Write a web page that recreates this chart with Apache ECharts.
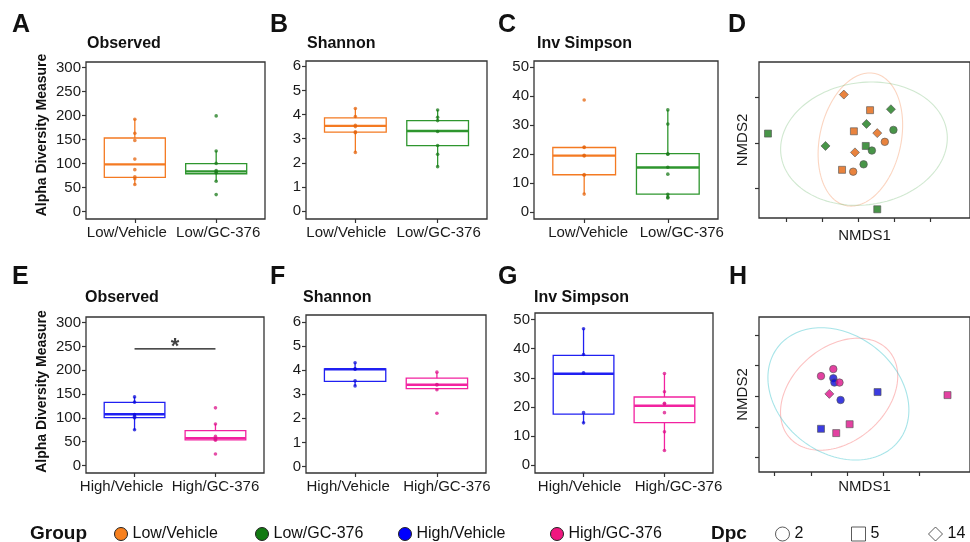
<!DOCTYPE html>
<html><head><meta charset="utf-8">
<script src="https://cdn.jsdelivr.net/npm/echarts@6/dist/echarts.min.js"></script>
<style>html,body{margin:0;padding:0;background:#fff}#chart{width:970px;height:542px}</style>
</head><body><div id="chart"></div>
<script>
// ---------------- DATA ----------------
const lowCats = ['Low/Vehicle', 'Low/GC-376'];
const highCats = ['High/Vehicle', 'High/GC-376'];
const groupNames = ['Low/Vehicle', 'Low/GC-376', 'High/Vehicle', 'High/GC-376'];
const dpcLevels = ['2', '5', '14'];

const obsTicks = [0, 50, 100, 150, 200, 250, 300];
const shanTicks = [0, 1, 2, 3, 4, 5, 6];
const invTicks = [0, 10, 20, 30, 40, 50];
const nmdsXTicks = [-2, -1, 0, 1, 2];
const nmdsYTicksD = [-1, 0, 1];
const nmdsYTicksH = [-2, -1, 0, 1, 2];

// box stats: [lower whisker, Q1, median, Q3, upper whisker]
const obsLowBox = [[56, 71, 98, 153, 192], [63, 78.5, 83.5, 99.5, 126]];
const obsLowPts = [[192, 163, 148, 109, 87, 72, 68, 56], [199, 126, 100, 85, 82, 80, 63, 35]];
const shanLowBox = [[2.43, 3.27, 3.53, 3.86, 4.25], [1.84, 2.71, 3.32, 3.75, 4.19]];
const shanLowPts = [[4.25, 3.92, 3.55, 3.5, 3.28, 3.25, 2.43], [4.19, 3.89, 3.75, 3.3, 2.72, 2.35, 1.84]];
const invLowBox = [[6.1, 12.8, 19.4, 22.2, 22.4], [5.0, 6.1, 15.3, 20.1, 35.2]];
const invLowPts = [[38.6, 22.4, 22.2, 19.5, 19.3, 12.9, 12.6, 6.1], [35.2, 30.3, 20.0, 19.9, 15.4, 13.0, 6.0, 5.0, 4.8]];
const obsHighBox = [[74.7, 100.4, 107.5, 132.6, 144.3], [53.8, 53.8, 57.3, 73.2, 87.2]];
const obsHighPts = [[144, 133, 107, 103, 100, 75], [121, 87, 61, 57, 55, 53, 24]];
const shanHighBox = [[3.34, 3.53, 4.03, 4.05, 4.30], [3.18, 3.23, 3.39, 3.66, 3.91]];
const shanHighPts = [[4.30, 4.05, 4.03, 3.55, 3.34], [3.91, 3.40, 3.38, 3.18, 2.21]];
const invHighBox = [[14.4, 17.5, 31.4, 37.7, 46.9], [5.0, 14.6, 20.4, 23.4, 31.4]];
const invHighPts = [[46.9, 38, 31.7, 18, 14.5], [31.5, 25.2, 21.2, 21.0, 18.0, 11.4, 5.0]];
const sigBar = [[1, 245], [2, 245]];
const sigLabel = '*';

// NMDS points: [NMDS1, NMDS2, Dpc]
const nmdsLowVehicle = [[-0.41, 1.05, 14], [0.32, 0.71, 5], [-0.13, 0.25, 5], [0.52, 0.21, 14], [0.73, 0.02, 2], [-0.10, -0.21, 14], [-0.46, -0.59, 5], [-0.15, -0.63, 2]];
const nmdsLowGC = [[-2.52, 0.20, 5], [0.90, 0.73, 14], [0.22, 0.41, 14], [0.97, 0.28, 2], [-0.92, -0.07, 14], [0.20, -0.07, 5], [0.37, -0.17, 2], [0.14, -0.47, 2], [0.52, -1.45, 5]];
const nmdsHighVehicle = [[-0.38, 0.59, 2], [-0.35, 0.45, 2], [-0.18, -0.12, 2], [0.84, 0.14, 5], [-0.72, -1.06, 5]];
const nmdsHighGC = [[-0.38, 0.89, 2], [-0.72, 0.66, 2], [-0.21, 0.45, 2], [-0.49, 0.08, 14], [2.77, 0.04, 5], [0.07, -0.91, 5], [-0.30, -1.20, 5]];
// ellipses: [centre NMDS1, centre NMDS2, semi-axis a, semi-axis b (NMDS1 units), angle deg]
const ellLowVehicle = [0.05, 0.07, 1.13, 1.88, 12.5];
const ellLowGC = [0.15, -0.02, 2.33, 1.70, -8.2];
const ellHighVehicle = [-0.22, 0.07, 1.82, 1.30, -41];
const ellHighGC = [-0.24, 0.08, 2.11, 1.63, 37.7];

// ---------------- STYLE ----------------
const FONT = "'Liberation Sans', Arial, Helvetica, sans-serif";
const BOXCOL = {'Low/Vehicle': '#F47A22', 'Low/GC-376': '#2E962E', 'High/Vehicle': '#2020F2', 'High/GC-376': '#F222A0'};
const PTCOL = {'Low/Vehicle': '#E4640E', 'Low/GC-376': '#1A7A1A', 'High/Vehicle': '#0B0BD8', 'High/GC-376': '#DC128A'};
const LEGCOL = {'Low/Vehicle': '#F7801E', 'Low/GC-376': '#127A12', 'High/Vehicle': '#0000FF', 'High/GC-376': '#F0167F'};
const ELLCOL = {'Low/Vehicle': 'rgba(244,150,100,0.4)', 'Low/GC-376': 'rgba(120,190,120,0.35)', 'High/Vehicle': 'rgba(248,120,120,0.45)', 'High/GC-376': 'rgba(60,195,205,0.45)'};
const DPCSYM = {2: 'circle', 5: 'rect', 14: 'diamond'};
const DPCSIZE = {2: 7.5, 5: 7, 14: 9};

const grids = [], xAxes = [], yAxes = [], series = [], titles = [], legends = [];

function boxRender(col) {
  return function (params, api) {
    const x = api.value(0);
    const lo = api.coord([x, api.value(1)]), q1 = api.coord([x, api.value(2)]), md = api.coord([x, api.value(3)]),
      q3 = api.coord([x, api.value(4)]), hi = api.coord([x, api.value(5)]);
    const hw = api.size([0.75, 0])[0] / 2;
    return {type: 'group', children: [
      {type: 'line', shape: {x1: lo[0], y1: lo[1], x2: q1[0], y2: q1[1]}, style: {stroke: col, lineWidth: 1.3}},
      {type: 'line', shape: {x1: q3[0], y1: q3[1], x2: hi[0], y2: hi[1]}, style: {stroke: col, lineWidth: 1.3}},
      {type: 'rect', shape: {x: q3[0] - hw, y: q3[1], width: 2 * hw, height: q1[1] - q3[1]}, style: {stroke: col, lineWidth: 1.3, fill: 'none'}},
      {type: 'line', shape: {x1: md[0] - hw, y1: md[1], x2: md[0] + hw, y2: md[1]}, style: {stroke: col, lineWidth: 2.4}}
    ]};
  };
}
function ellRender(col) {
  return function (params, api) {
    const c = api.coord([api.value(0), api.value(1)]);
    const ux = api.size([1, 0])[0];
    const rx = api.value(2) * ux, ry = api.value(3) * ux, a = api.value(4) * Math.PI / 180;
    const pts = [];
    for (let i = 0; i <= 144; i++) {
      const t = i / 144 * 2 * Math.PI, ex = rx * Math.cos(t), ey = ry * Math.sin(t);
      pts.push([c[0] + ex * Math.cos(a) - ey * Math.sin(a), c[1] + ex * Math.sin(a) + ey * Math.cos(a)]);
    }
    return {type: 'polygon', shape: {points: pts}, style: {fill: 'none', stroke: col, lineWidth: 1.1}};
  };
}

const tickStyle = {color: '#333', width: 1.2};
function addGrid(g) {
  grids.push(Object.assign({show: true, borderColor: '#333', borderWidth: 1.3, backgroundColor: 'transparent'}, g));
  return grids.length - 1;
}

function catAxis(gi, cats, k, shift) {
  // one bottom axis per category so both labels are always drawn; shift nudges the label horizontally
  const pad = shift >= 0 ? [0, 0, 0, 2 * shift] : [0, -2 * shift, 0, 0];
  return {gridIndex: gi, type: 'value', position: 'bottom', min: 0.4, max: 2.6,
    axisLine: {show: false, onZero: false}, splitLine: {show: false},
    axisTick: {show: true, length: 4, customValues: [k + 1], lineStyle: tickStyle},
    axisLabel: {show: true, customValues: [k + 1], formatter: v => cats[Math.round(v) - 1], color: '#1a1a1a', fontSize: 15, fontFamily: FONT, margin: 6, padding: pad}};
}

function addBoxPanel(p) {
  const gi = addGrid(p.grid);
  const xi = xAxes.length;
  xAxes.push(catAxis(gi, p.cats, 0, p.shift[0]));
  xAxes.push(catAxis(gi, p.cats, 1, p.shift[1]));
  const yi = yAxes.length;
  yAxes.push({gridIndex: gi, type: 'value', min: p.yMin, max: p.yMax,
    name: p.yName || '', nameLocation: 'middle', nameRotate: 90, nameGap: 37,
    nameTextStyle: {fontSize: 14, fontWeight: 'bold', color: '#111', fontFamily: FONT, padding: [0, 0, 0, p.namePad || 0]},
    axisLine: {show: false, onZero: false}, splitLine: {show: false},
    axisTick: {show: true, length: 4, customValues: p.ticks, lineStyle: tickStyle},
    axisLabel: {show: true, customValues: p.ticks, color: '#1a1a1a', fontSize: 15, fontFamily: FONT, margin: 5}});
  p.cats.forEach((cat, k) => {
    series.push({type: 'custom', name: cat, xAxisIndex: xi, yAxisIndex: yi, renderItem: boxRender(BOXCOL[cat]),
      data: [[k + 1].concat(p.box[k])], silent: true, z: 2});
    series.push({type: 'scatter', name: cat, xAxisIndex: xi, yAxisIndex: yi, symbolSize: 3.6,
      itemStyle: {color: PTCOL[cat], opacity: 0.75}, data: p.pts[k].map(v => [k + 1, v]), silent: true, z: 3});
  });
  return {xi, yi};
}

function addNmdsPanel(p) {
  const gi = addGrid(p.grid);
  const xi = xAxes.length, yi = yAxes.length;
  xAxes.push({gridIndex: gi, type: 'value', position: 'bottom', min: p.xMin, max: p.xMax,
    name: 'NMDS1', nameLocation: 'middle', nameGap: p.xGap, nameTextStyle: {fontSize: 15, color: '#1a1a1a', fontFamily: FONT},
    axisLine: {show: false, onZero: false}, splitLine: {show: false},
    axisTick: {show: true, length: 4, customValues: nmdsXTicks, lineStyle: tickStyle},
    axisLabel: {show: false}});
  yAxes.push({gridIndex: gi, type: 'value', min: p.yMin, max: p.yMax,
    name: 'NMDS2', nameLocation: 'middle', nameRotate: 90, nameGap: 9, nameTextStyle: {fontSize: 15, color: '#1a1a1a', fontFamily: FONT},
    axisLine: {show: false, onZero: false}, splitLine: {show: false},
    axisTick: {show: true, length: 4, customValues: p.yTicks, lineStyle: tickStyle},
    axisLabel: {show: false}});
  p.groups.forEach((g, k) => {
    series.push({type: 'custom', name: g, xAxisIndex: xi, yAxisIndex: yi, renderItem: ellRender(ELLCOL[g]),
      data: [p.ells[k]], silent: true, z: 2});
  });
  p.groups.forEach((g, k) => {
    series.push({type: 'scatter', name: g, xAxisIndex: xi, yAxisIndex: yi, silent: true, z: 3,
      itemStyle: {color: PTCOL[g], borderColor: '#555', borderWidth: 0.8},
      data: p.pts[k].map(d => ({value: [d[0], d[1]], symbol: DPCSYM[d[2]], symbolSize: DPCSIZE[d[2]]}))});
  });
  return {xi, yi};
}

addBoxPanel({grid: {left: 86, top: 62, width: 179, height: 157}, cats: lowCats, box: obsLowBox, pts: obsLowPts, shift: [-8, 2],
  yMin: -15.8, yMax: 311.3, ticks: obsTicks, yName: 'Alpha Diversity Measure', namePad: 11});
addBoxPanel({grid: {left: 306, top: 61, width: 181, height: 158}, cats: lowCats, box: shanLowBox, pts: shanLowPts, shift: [-9, 1],
  yMin: -0.33, yMax: 6.22, ticks: shanTicks});
addBoxPanel({grid: {left: 534, top: 61, width: 184, height: 158}, cats: lowCats, box: invLowBox, pts: invLowPts, shift: [4, 14],
  yMin: -2.5, yMax: 52.1, ticks: invTicks});
const axE = addBoxPanel({grid: {left: 86, top: 317, width: 178, height: 156}, cats: highCats, box: obsHighBox, pts: obsHighPts, shift: [-13, 0],
  yMin: -16, yMax: 312, ticks: obsTicks, yName: 'Alpha Diversity Measure', namePad: 7});
addBoxPanel({grid: {left: 306, top: 315, width: 180, height: 158}, cats: highCats, box: shanHighBox, pts: shanHighPts, shift: [-7, 10],
  yMin: -0.27, yMax: 6.28, ticks: shanTicks});
addBoxPanel({grid: {left: 535, top: 313, width: 178, height: 160}, cats: highCats, box: invHighBox, pts: invHighPts, shift: [-4, 14],
  yMin: -2.76, yMax: 52.3, ticks: invTicks});

const axD = addNmdsPanel({grid: {left: 759, top: 62, width: 228, height: 156}, xMin: -2.77, xMax: 3.10, yMin: -1.64, yMax: 1.76,
  yTicks: nmdsYTicksD, xGap: 10, groups: ['Low/Vehicle', 'Low/GC-376'], pts: [nmdsLowVehicle, nmdsLowGC], ells: [ellLowVehicle, ellLowGC]});
addNmdsPanel({grid: {left: 759, top: 317, width: 228, height: 155}, xMin: -2.43, xMax: 3.39, yMin: -2.47, yMax: 2.59,
  yTicks: nmdsYTicksH, xGap: 7, groups: ['High/Vehicle', 'High/GC-376'], pts: [nmdsHighVehicle, nmdsHighGC], ells: [ellHighVehicle, ellHighGC]});

// significance bar in panel E
series.push({type: 'line', xAxisIndex: axE.xi, yAxisIndex: axE.yi, data: sigBar, symbol: 'none', silent: true,
  lineStyle: {color: '#111', width: 1.3}, z: 4});
series.push({type: 'scatter', xAxisIndex: axE.xi, yAxisIndex: axE.yi, silent: true, symbolSize: 1, itemStyle: {color: 'rgba(0,0,0,0)'},
  data: [[(sigBar[0][0] + sigBar[1][0]) / 2, sigBar[0][1]]],
  label: {show: true, formatter: sigLabel, position: 'top', distance: -10, fontSize: 22, fontWeight: 'bold', color: '#111', fontFamily: FONT}, z: 4});

// dummy series for Dpc legend
dpcLevels.forEach(d => series.push({type: 'scatter', name: d, xAxisIndex: axD.xi, yAxisIndex: axD.yi, data: [], symbol: DPCSYM[d]}));

// titles
const letterPos = [['A', 12, 13], ['B', 270, 13], ['C', 498, 13], ['D', 728, 13], ['E', 12, 265], ['F', 270, 265], ['G', 498, 265], ['H', 729, 265]];
letterPos.forEach(l => titles.push({text: l[0], left: l[1], top: l[2], padding: 0,
  textStyle: {fontSize: 25, fontWeight: 'bold', color: '#111', fontFamily: FONT}}));
const subPos = [['Observed', 87, 36], ['Shannon', 307, 36], ['Inv Simpson', 537, 36], ['Observed', 85, 290], ['Shannon', 303, 290], ['Inv Simpson', 534, 290]];
subPos.forEach(s => titles.push({text: s[0], left: s[1], top: s[2], padding: 0,
  textStyle: {fontSize: 16, fontWeight: 'bold', color: '#111', fontFamily: FONT}}));
titles.push({text: 'Group', left: 30, top: 524, padding: 0, textStyle: {fontSize: 19, fontWeight: 'bold', color: '#111', fontFamily: FONT}});
titles.push({text: 'Dpc', left: 711, top: 524, padding: 0, textStyle: {fontSize: 19, fontWeight: 'bold', color: '#111', fontFamily: FONT}});

// legends
const groupLegLeft = [114, 255, 398, 550];
groupNames.forEach((g, i) => legends.push({left: groupLegLeft[i], top: 526, padding: 0, itemWidth: 13, itemHeight: 13, selectedMode: false,
  data: [{name: g, icon: 'circle', itemStyle: {color: LEGCOL[g], borderColor: '#222', borderWidth: 1}}],
  textStyle: {fontSize: 16, color: '#111', fontFamily: FONT}}));
const dpcLegLeft = [775, 851, 928];
dpcLevels.forEach((d, i) => legends.push({left: dpcLegLeft[i], top: 526, padding: 0, itemWidth: 14, itemHeight: 14, selectedMode: false,
  data: [{name: d, icon: DPCSYM[d], itemStyle: {color: '#fff', borderColor: '#333', borderWidth: 1}}],
  textStyle: {fontSize: 16, color: '#111', fontFamily: FONT}}));

const chart = echarts.init(document.getElementById('chart'), null, {renderer: 'canvas'});
chart.setOption({
  animation: false,
  backgroundColor: '#fff',
  title: titles,
  legend: legends,
  grid: grids,
  xAxis: xAxes,
  yAxis: yAxes,
  series: series
});
</script></body></html>
